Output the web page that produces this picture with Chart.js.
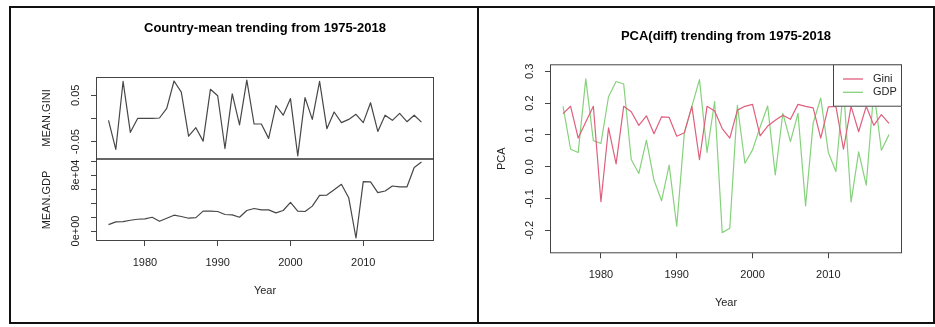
<!DOCTYPE html>
<html>
<head>
<meta charset="utf-8">
<title>Gini and GDP trends 1975-2018</title>
<script src="https://cdn.jsdelivr.net/npm/chart.js@4.4.1/dist/chart.umd.min.js"></script>
<style>
  html, body { margin: 0; padding: 0; background: #fff; }
  #page { position: relative; width: 935px; height: 327px; overflow: hidden; background: #fff; }
  #page canvas { position: absolute; left: 0; top: 0; }
  .rule { position: absolute; background: #111; }
</style>
</head>
<body>
<div id="page">
  <canvas id="meanChart" width="935" height="327"></canvas>
  <canvas id="pcaChart" width="935" height="327"></canvas>
  <div class="rule" style="left:9px;top:6px;width:926px;height:2px"></div>
  <div class="rule" style="left:9px;top:322px;width:926px;height:2px"></div>
  <div class="rule" style="left:9px;top:6px;width:2px;height:318px"></div>
  <div class="rule" style="left:477px;top:6px;width:2px;height:318px"></div>
  <div class="rule" style="left:933px;top:6px;width:2px;height:318px"></div>
</div>
<script>
// yearly series, 1975 - 2018
const years = [
  1975, 1976, 1977, 1978, 1979, 1980, 1981, 1982, 1983, 1984, 1985,
  1986, 1987, 1988, 1989, 1990, 1991, 1992, 1993, 1994, 1995, 1996,
  1997, 1998, 1999, 2000, 2001, 2002, 2003, 2004, 2005, 2006, 2007,
  2008, 2009, 2010, 2011, 2012, 2013, 2014, 2015, 2016, 2017, 2018
];

const meanGini = [
  -0.004, -0.067, 0.080, -0.030, 0.000, 0.000, 0.000, 0.001, 0.022, 0.081, 0.057,
  -0.038, -0.020, -0.049, 0.063, 0.049, -0.065, 0.053, -0.014, 0.083, -0.012, -0.012,
  -0.043, 0.028, 0.007, 0.043, -0.081, 0.045, -0.002, 0.080, -0.022, 0.014, -0.009,
  -0.002, 0.009, -0.009, 0.034, -0.028, 0.007, -0.004, 0.011, -0.007, 0.007, -0.008
];

const meanGdp = [
  9100, 13000, 13500, 15400, 16800, 17300, 19700, 13900, 18300, 22600, 20700,
  18300, 19200, 28400, 28400, 27900, 23600, 23100, 19700, 29300, 32200, 30300,
  30300, 26000, 29300, 40900, 28400, 27900, 35600, 51000, 51400, 59100, 66800,
  47600, -10000, 70700, 70200, 54800, 57200, 64400, 63000, 63000, 90900, 98600
];

const pcaGini = [
  0.167, 0.190, 0.090, 0.141, 0.190, -0.110, 0.122, 0.009, 0.190, 0.173, 0.130,
  0.160, 0.104, 0.157, 0.155, 0.096, 0.107, 0.190, 0.022, 0.190, 0.175, 0.120,
  0.090, 0.178, 0.190, 0.196, 0.097, 0.128, 0.146, 0.162, 0.149, 0.196, 0.190,
  0.185, 0.090, 0.188, 0.190, 0.055, 0.190, 0.110, 0.190, 0.130, 0.164, 0.136
];

const pcaGdp = [
  0.190, 0.055, 0.045, 0.276, 0.082, 0.073, 0.220, 0.268, 0.260, 0.023, -0.021,
  0.084, -0.042, -0.107, 0.005, -0.187, 0.105, 0.190, 0.274, 0.045, 0.205, -0.207,
  -0.193, 0.193, 0.011, 0.053, 0.125, 0.191, -0.026, 0.168, 0.079, 0.168, -0.123,
  0.137, 0.216, 0.045, -0.015, 0.250, -0.111, 0.047, -0.058, 0.240, 0.052, 0.101
];

const yearTicks = [1980, 1990, 2000, 2010];
const giniTicks = [-0.05, 0, 0.05];
const gdpTicks = [0, 20000, 40000, 60000, 80000, 100000];
const gdpLabelled = [0, 80000];
const pcaTicks = [-0.2, -0.1, 0, 0.1, 0.2, 0.3];

const fontFamily = "'Liberation Sans', Arial, Helvetica, sans-serif";
const textColor = "#1e1e1e";
const axisColor = "#444";
const giniColor = "#df5f7d";
const gdpColor = "#86d27c";

Chart.defaults.font.family = fontFamily;
Chart.defaults.font.size = 11;
Chart.defaults.color = textColor;

const points = (values) => years.map((y, i) => ({ x: y, y: values[i] }));
const fixTicks = (list) => (scale) => {
  scale.ticks = list.map((v) => ({ value: v }));
};
// R style exponent label, e.g. 8e+04
const sciLabel = (v) =>
  v.toExponential().replace(/e([+-])(\d)$/, "e$10$2");

// plot frame like base graphics: box around the plot region
const frameBox = {
  id: "frameBox",
  afterDatasetsDraw(chart) {
    const { ctx, chartArea: a } = chart;
    ctx.save();
    ctx.strokeStyle = axisColor;
    ctx.lineWidth = 1;
    ctx.strokeRect(a.left + 0.5, a.top + 0.5, a.width - 1, a.height - 1);
    const lower = chart.scales.gdp;
    if (lower) {
      ctx.lineWidth = 1.6;
      ctx.strokeStyle = "#333";
      ctx.beginPath();
      ctx.moveTo(a.left, lower.top);
      ctx.lineTo(a.right, lower.top);
      ctx.stroke();
    }
    ctx.restore();
  },
};

// boxed legend in the top-right corner of the plot
const cornerLegend = {
  id: "cornerLegend",
  afterDatasetsDraw(chart) {
    const { ctx, chartArea: a } = chart;
    const w = 69, h = 42.4;
    const x0 = a.right - w, y0 = a.top;
    ctx.save();
    ctx.fillStyle = "#fff";
    ctx.fillRect(x0, y0, w, h);
    ctx.strokeStyle = axisColor;
    ctx.lineWidth = 1;
    ctx.strokeRect(x0 + 0.5, y0 + 0.5, w - 1, h - 1);
    ctx.font = "11px " + fontFamily;
    ctx.textBaseline = "middle";
    ctx.textAlign = "left";
    chart.data.datasets.forEach((ds, i) => {
      const y = y0 + 14.7 + i * 13.3;
      ctx.strokeStyle = ds.borderColor;
      ctx.lineWidth = 1.3;
      ctx.beginPath();
      ctx.moveTo(x0 + 10, y);
      ctx.lineTo(x0 + 30, y);
      ctx.stroke();
      ctx.fillStyle = textColor;
      ctx.fillText(ds.label, x0 + 40, y);
    });
    ctx.restore();
  },
};

function xAxis() {
  return {
    type: "linear",
    min: 1973.28,
    max: 2019.72,
    afterBuildTicks: fixTicks(yearTicks),
    afterFit: (s) => { s.height = 60; },
    grid: { drawOnChartArea: false, tickLength: 5, color: axisColor },
    border: { display: false },
    ticks: { padding: 10, autoSkip: false, maxRotation: 0, callback: (v) => String(v) },
    title: { display: true, text: "Year", padding: { top: 0, bottom: 3.5 } },
  };
}

function yAxis(extra) {
  return Object.assign({
    type: "linear",
    position: "left",
    afterFit: (s) => { s.width = 60; },
    grid: { drawOnChartArea: false, tickLength: 5, color: axisColor },
    border: { display: false },
  }, extra);
}

const lineStyle = { pointRadius: 0, borderWidth: 1.2, tension: 0, borderJoinStyle: "round" };

// Country-mean chart: two stacked panels sharing the year axis
// (in a stack the scale declared last sits on top)
new Chart(document.getElementById("meanChart"), {
  type: "line",
  data: {
    datasets: [
      Object.assign({ label: "MEAN.GINI", data: points(meanGini), yAxisID: "gini", borderColor: "#474747" }, lineStyle),
      Object.assign({ label: "MEAN.GDP", data: points(meanGdp), yAxisID: "gdp", borderColor: "#474747" }, lineStyle),
    ],
  },
  options: {
    responsive: false,
    animation: false,
    layout: { padding: { left: 36, right: 501, top: 0, bottom: 26 } },
    scales: {
      x: xAxis(),
      gdp: yAxis({
        stack: "panels",
        stackWeight: 1,
        min: -14300,
        max: 103000,
        afterBuildTicks: fixTicks(gdpTicks),
        ticks: {
          minRotation: 90, maxRotation: 90, crossAlign: "center", padding: 0, autoSkip: false,
          callback: (v) => (gdpLabelled.includes(v) ? sciLabel(v) : ""),
        },
        title: { display: true, text: "MEAN.GDP", padding: { top: 4.4, bottom: 0 } },
      }),
      gini: yAxis({
        stack: "panels",
        stackWeight: 1,
        min: -0.0876,
        max: 0.0896,
        afterBuildTicks: fixTicks(giniTicks),
        ticks: {
          minRotation: 90, maxRotation: 90, crossAlign: "center", padding: 2, autoSkip: false,
          callback: (v) => (v === 0 ? "" : v.toFixed(2)),
        },
        title: { display: true, text: "MEAN.GINI", padding: { top: 4.4, bottom: 0 } },
      }),
    },
    plugins: {
      legend: { display: false },
      tooltip: { enabled: false },
      title: {
        display: true,
        text: "Country-mean trending from 1975-2018",
        fullSize: false,
        color: "#000",
        font: { size: 13, weight: "bold" },
        padding: { top: 20.2, bottom: 41.2 },
      },
    },
  },
  plugins: [frameBox],
});

// PCA of the differenced series
new Chart(document.getElementById("pcaChart"), {
  type: "line",
  data: {
    datasets: [
      Object.assign({ label: "Gini", data: points(pcaGini), borderColor: giniColor }, lineStyle),
      Object.assign({ label: "GDP", data: points(pcaGdp), borderColor: gdpColor }, lineStyle),
    ],
  },
  options: {
    responsive: false,
    animation: false,
    layout: { padding: { left: 490, right: 33, top: 0, bottom: 13.7 } },
    scales: {
      x: xAxis(),
      y: yAxis({
        min: -0.272,
        max: 0.322,
        afterBuildTicks: fixTicks(pcaTicks),
        ticks: {
          minRotation: 90, maxRotation: 90, crossAlign: "center", padding: 5.5, autoSkip: false,
          callback: (v) => v.toFixed(1),
        },
        title: { display: true, text: "PCA", padding: { top: 5.4, bottom: 0 } },
      }),
    },
    plugins: {
      legend: { display: false },
      tooltip: { enabled: false },
      title: {
        display: true,
        text: "PCA(diff) trending from 1975-2018",
        fullSize: false,
        color: "#000",
        font: { size: 13, weight: "bold" },
        padding: { top: 28.2, bottom: 20.5 },
      },
    },
  },
  plugins: [frameBox, cornerLegend],
});
</script>
</body>
</html>
